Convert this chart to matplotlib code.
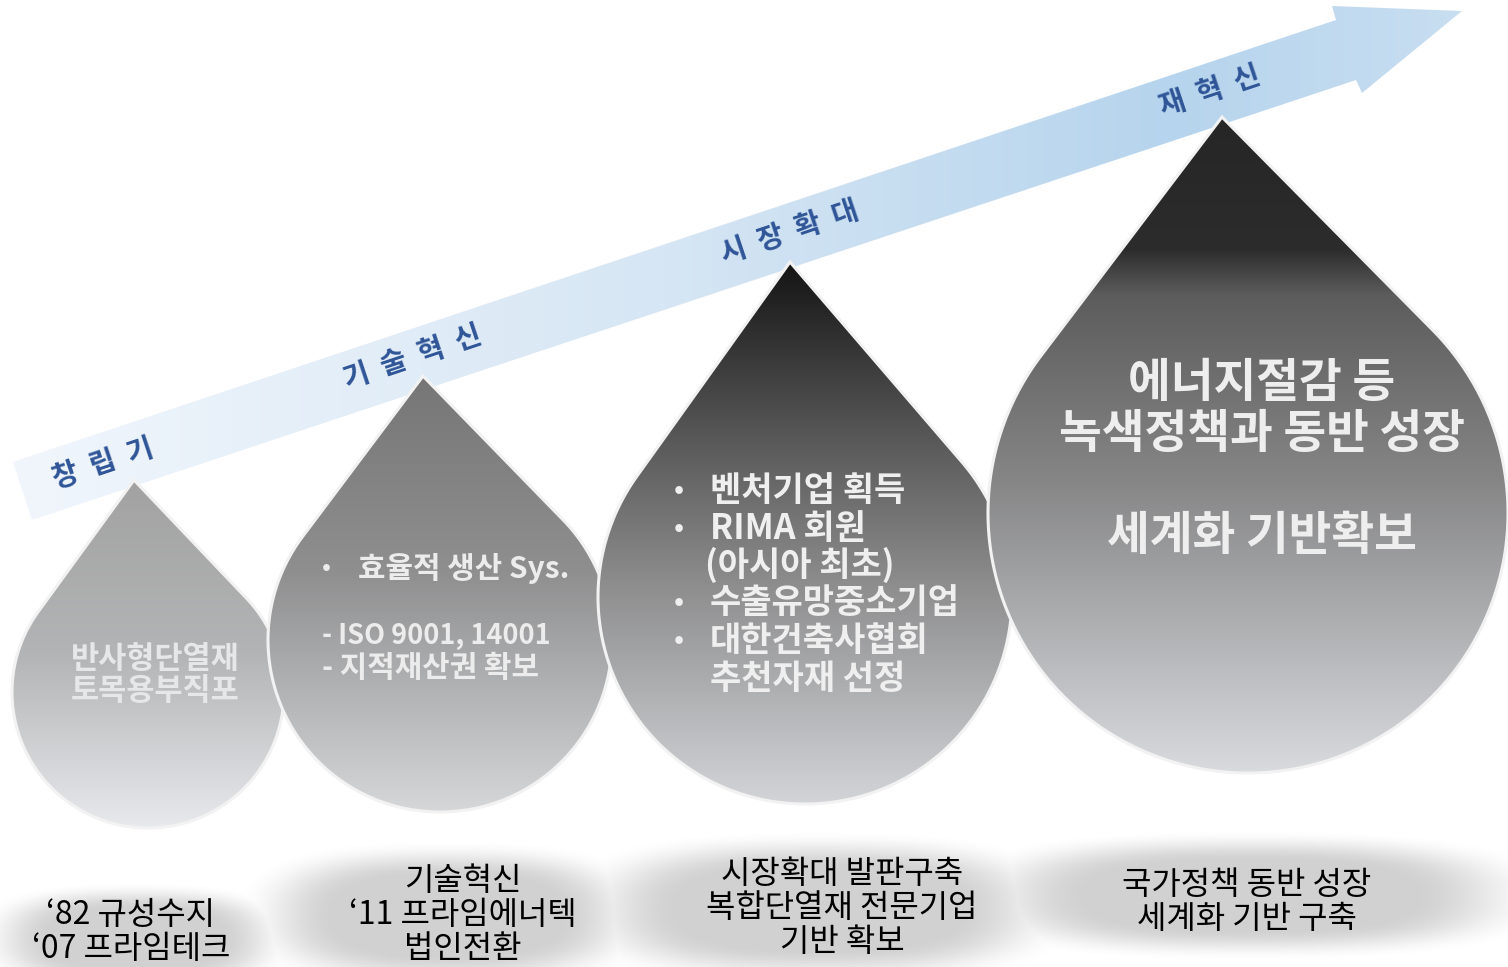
import numpy as np
import matplotlib
matplotlib.use('Agg')
import matplotlib.pyplot as plt
from matplotlib.patches import Polygon
from matplotlib.colors import to_rgb

FONT = ['Noto Sans CJK KR', 'DejaVu Sans']
W, H = 1508, 967

# big arrow (pixel geometry of the slide)
arrow_pts = [(13, 462), (1336, 20), (1332, 6), (1462, 11), (1362, 93), (1356, 80), (32, 520)]
arrow_stops = [(0.0, '#f1f6fc'), (0.45, '#d6e6f4'), (0.8, '#b6d4ed'), (1.0, '#c8def1')]

stage_labels = ['창  립  기', '기  술  혁  신', '시  장  확  대', '재  혁  신']
stage_pos = [(103, 464), (413, 358), (790, 233), (1210, 92)]

# teardrops
drop_tips = [(134, 480), (423, 376), (790, 262), (1222, 117)]
drop_centers = [(148, 692), (440, 640), (805, 597), (1248, 513)]
drop_radii = [136, 172, 207, 260]
drop_stops = [
    [(0.0, '#a2a2a2'), (0.5, '#b3b4b5'), (1.0, '#e7e9ec')],
    [(0.0, '#767676'), (0.45, '#8f8f90'), (1.0, '#d5d7d9')],
    [(0.0, '#141414'), (0.3, '#535353'), (0.6, '#8e8e8f'), (1.0, '#d2d4d7')],
    [(0.0, '#262626'), (0.2, '#2c2c2c'), (0.27, '#5c5c5c'), (0.55, '#858586'), (1.0, '#d8dadd')],
]

# text inside drops
drop1_lines = ['반사형단열재', '토목용부직포']
drop1_y = [659, 691]
drop2_lines = [('•', '효율적 생산 Sys.', 568), (None, '- ISO 9001, 14001', 636), (None, '- 지적재산권 확보', 668)]
drop3_lines = [('•', '벤처기업 획득', 490), ('•', 'RIMA 회원', 528), (None, '(아시아 최초)', 565),
               ('•', '수출유망중소기업', 602), ('•', '대한건축사협회', 640), (None, '추천자재 선정', 678)]
drop4_lines = ['에너지절감 등', '녹색정책과 동반 성장', '세계화 기반확보']
drop4_y = [383, 434, 536]

# captions below
captions = ['‘82 규성수지\n‘07 프라임테크',
            '기술혁신\n‘11 프라임에너텍\n법인전환',
            '시장확대 발판구축\n복합단열재 전문기업\n기반 확보',
            '국가정책 동반 성장\n세계화 기반 구축']
caption_pos = [(131, 932), (463, 915), (842, 908), (1247, 902)]
blobs = [(135, 938, 130, 45), (447, 915, 170, 60), (818, 908, 210, 62), (1250, 895, 245, 52)]


def gradient(stops, n=256):
    pos = [s[0] for s in stops]
    cols = np.array([to_rgb(s[1]) for s in stops])
    t = np.linspace(0, 1, n)
    return np.stack([np.interp(t, pos, cols[:, k]) for k in range(3)], axis=-1)


def drop_outline(tip, c, r):
    tx, ty = tip
    cx, cy = c
    d = np.hypot(tx - cx, ty - cy)
    phi = np.arctan2(ty - cy, tx - cx)
    a = np.arccos(r / d)
    th = np.linspace(phi + a, phi - a + 2 * np.pi, 300)
    pts = [(tx, ty)] + list(zip(cx + r * np.cos(th), cy + r * np.sin(th)))
    return np.array(pts)


fig = plt.figure(figsize=(W / 100, H / 100), dpi=100)
ax = fig.add_axes([0, 0, 1, 1])
ax.set_xlim(0, W)
ax.set_ylim(H, 0)
ax.axis('off')

# arrow with left-to-right gradient
arr = Polygon(arrow_pts, closed=True, facecolor='none', edgecolor='none')
ax.add_patch(arr)
img = ax.imshow(gradient(arrow_stops)[None, :, :], extent=(13, 1462, 520, 6),
                aspect='auto', zorder=1, interpolation='bilinear')
img.set_clip_path(arr)

for lab, (x, y) in zip(stage_labels, stage_pos):
    ax.text(x, y, lab, fontsize=20.5, fontweight='bold', color='#2f5597', family=FONT,
            rotation=18.5, rotation_mode='anchor', ha='center', va='center', zorder=10)

# drops
for i, (tip, c, r, st) in enumerate(zip(drop_tips, drop_centers, drop_radii, drop_stops)):
    pts = drop_outline(tip, c, r)
    z = 2 + i
    poly = Polygon(pts, closed=True, facecolor='none', edgecolor='#f2f2f2', linewidth=2.2, zorder=z + 0.5)
    ax.add_patch(poly)
    clip = Polygon(pts, closed=True, facecolor='none', edgecolor='none')
    ax.add_patch(clip)
    x0, x1 = pts[:, 0].min(), pts[:, 0].max()
    y0, y1 = pts[:, 1].min(), pts[:, 1].max()
    g = ax.imshow(gradient(st)[:, None, :], extent=(x0, x1, y1, y0), aspect='auto',
                  zorder=z, interpolation='bilinear')
    g.set_clip_path(clip)

txt = dict(family=FONT, fontweight='bold', zorder=8)
for s, y in zip(drop1_lines, drop1_y):
    ax.text(155, y, s, fontsize=22, color='#e6e7e9', ha='center', va='center', **txt)

for b, s, y in drop2_lines:
    if b:
        ax.text(326, y, b, fontsize=17, color='#ececec', ha='center', va='center', **txt)
        ax.text(358, y, s, fontsize=21.5, color='#ececec', ha='left', va='center', **txt)
    elif 'ISO' in s:
        ax.text(322, y, s, fontsize=19.5, color='#ececec', ha='left', va='center', **txt)
    else:
        ax.text(322, y, s, fontsize=21.5, color='#ececec', ha='left', va='center', **txt)

for b, s, y in drop3_lines:
    if b:
        ax.text(679, y, b, fontsize=19, color='#efefef', ha='center', va='center', **txt)
    x = 705 if s.startswith('(') else 710
    ax.text(x, y, s, fontsize=24.5, color='#efefef', ha='left', va='center', **txt)

for s, y in zip(drop4_lines, drop4_y):
    ax.text(1262, y, s, fontsize=33.5, color='#eeeeee', ha='center', va='center', **txt)

# soft grey shadows under captions
xs = np.arange(0, W)
ys = np.arange(820, H)
X, Y = np.meshgrid(xs, ys)
alpha = np.zeros_like(X, dtype=float)
for cx, cy, hw, hh in blobs:
    rr = ((np.abs(X - cx) / hw) ** 2.6 + (np.abs(Y - cy) / hh) ** 2.6) ** (1 / 2.6)
    t = np.clip((1.25 - rr) / 0.6, 0, 1)
    alpha = np.maximum(alpha, 0.72 * t * t * (3 - 2 * t))
shadow = np.zeros(X.shape + (4,))
shadow[..., :3] = 0.75
shadow[..., 3] = alpha
ax.imshow(shadow, extent=(0, W, H, 820), aspect='auto', zorder=1, interpolation='bilinear')

for s, (x, y) in zip(captions, caption_pos):
    ax.text(x, y, s, fontsize=23, color='black', family=FONT, ha='center', va='center',
            linespacing=1.08, zorder=9)

fig.savefig('out.png', dpi=100, facecolor='white')
